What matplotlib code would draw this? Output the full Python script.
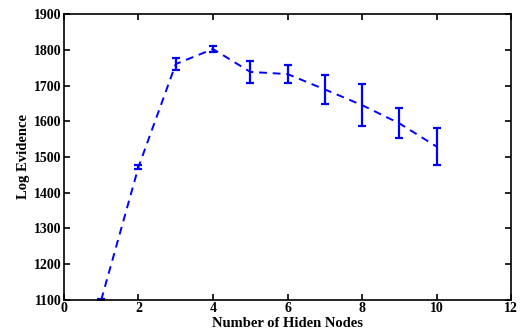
import numpy as np
import matplotlib
matplotlib.use('Agg')
import matplotlib.pyplot as plt

plt.rcParams.update({
    'font.family': 'Liberation Serif',
    'font.weight': 'bold',
    'font.size': 10,
    'xtick.direction': 'in',
    'ytick.direction': 'in',
    'xtick.top': True,
    'ytick.right': True,
})

nodes = [1, 2, 3, 4, 5, 6, 7, 8, 9, 10]
evidence = [1100, 1472, 1760, 1802, 1738, 1732, 1689, 1645, 1594, 1529]
err = [3, 5, 17, 8, 31, 24, 41, 58, 42, 52]

fig = plt.figure(figsize=(5.2, 3.34), dpi=100)
ax = fig.add_axes([0.123, 0.102, 0.860, 0.856])

ax.errorbar(nodes, evidence, yerr=err, color='#0000ff', linestyle='--',
            linewidth=1.4, elinewidth=1.6, capsize=3.2, capthick=1.6,
            dashes=(4, 3))

ax.set_xlim(0, 12)
ax.set_ylim(1100, 1900)
ax.set_xticks(np.arange(0, 13, 2))
ax.set_yticks(np.arange(1100, 1901, 100))
for s in ax.spines.values():
    s.set_linewidth(1.2)
ax.tick_params(width=1.2, length=4, labelsize=10, pad=1.5)
ax.set_xlabel('Number of Hiden Nodes', fontsize=10.5, fontweight='bold', labelpad=1.5)
ax.set_ylabel('Log Evidence', fontsize=10.5, fontweight='bold', labelpad=3)

fig.savefig('out.png', dpi=100)
